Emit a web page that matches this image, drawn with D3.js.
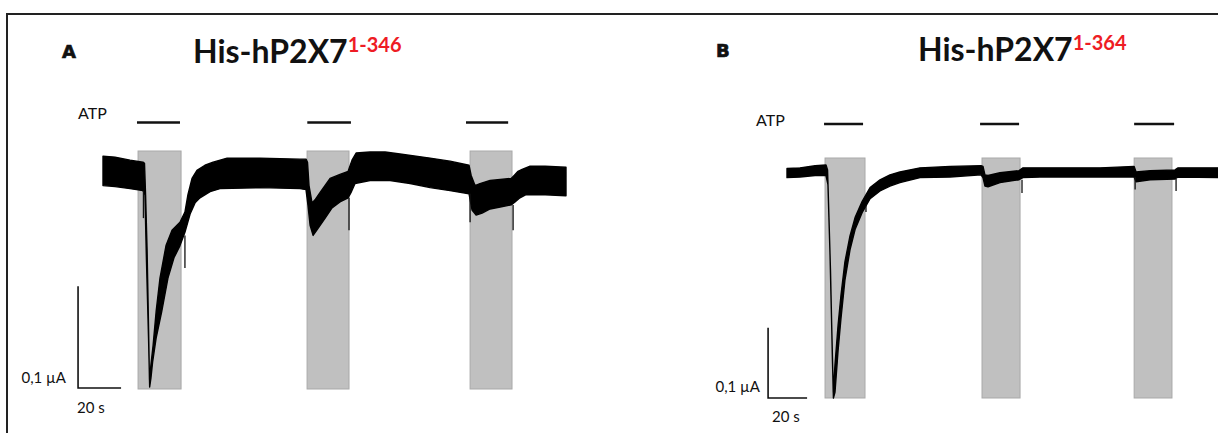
<!DOCTYPE html>
<html>
<head>
<meta charset="utf-8">
<script src="https://cdn.jsdelivr.net/npm/d3@7"></script>
<style>
  html, body { margin: 0; padding: 0; background: #fff; }
  svg { display: block; }
  .label { font-family: Lato, "Open Sans", sans-serif; fill: #111; }
  .panel-letter { font-family: "DejaVu Sans", sans-serif; font-weight: bold; fill: #111; stroke: #111; stroke-width: 0.7; }
</style>
</head>
<body>
<div id="chart"></div>
<script>
/* two-electrode voltage clamp traces, panels A and B
   time in s, current in nA (negative = inward) */

const WIDTH = 1218;
const HEIGHT = 433;

// ---------- panel A : His-hP2X7 1-346 ----------
// upper edge of the (noisy) recorded trace
const A_TOP = [
  [0, 16], [5.6, 15], [12.6, 12], [18.6, 10], [19.3, 9], [19.8, -22], [20.5, -76],
  [21.2, -155], [21.6, -204], [22.3, -189], [23.3, -170], [24.7, -137], [26.5, -104],
  [29.3, -72], [32.1, -57], [35.8, -49], [38.1, -39], [39.5, -22], [41.4, -6],
  [43.7, 2], [47.4, 7], [51.2, 10], [57.7, 14], [73, 14], [91.6, 13], [94.4, 13],
  [95.1, 10], [95.8, -13], [97.2, -30], [98.6, -27], [100.9, -20], [105.6, -6],
  [110.2, -2], [114, 1], [115.8, 12], [117.7, 19], [124.2, 20], [131.2, 20],
  [138.1, 18], [152.1, 14], [161.4, 11], [170.2, 7], [171.2, -3], [173, -13],
  [175.3, -11], [180, -8], [184.7, -7], [189.8, -6], [191.2, -3], [193, 1],
  [194.9, 3], [198.6, 6], [205.6, 6], [215.3, 5]
];
// lower edge of the trace
const A_BOTTOM = [
  [0, -13], [5.6, -14], [12.6, -16], [18.6, -18], [19.5, -22], [20.2, -86],
  [21.2, -165], [21.7, -211], [22.3, -202], [23.1, -186], [24.7, -163], [27.3, -137],
  [30.2, -104], [33, -84], [35.8, -72], [38.1, -59], [40.5, -41], [42.8, -30],
  [45.1, -25], [49.8, -19], [54.4, -16], [73, -15], [91.6, -16], [94.4, -17],
  [95.3, -32], [96.3, -52], [97.7, -62], [100, -55], [103.3, -45], [106.5, -35],
  [110.2, -29], [114, -25], [115.3, -20], [117.2, -11], [124.2, -8], [133.5, -8],
  [142.8, -11], [152.1, -15], [161.4, -18], [170.2, -21], [171.6, -37], [173.5, -42],
  [176.3, -40], [180, -36], [184.7, -34], [189.8, -32], [191.6, -29], [193.9, -25],
  [196.7, -22], [205.6, -22], [215.3, -23]
];
// switching artefacts: [time, from, to]
const A_SPIKES = [[18.8, -18, -45], [38.1, -62, -94], [114.4, -25, -57], [170.7, -21, -49], [190.7, -32, -57]];
// ATP application windows (grey boxes) and the bars above them
const A_PULSES = [[16.3, 36.3], [94.9, 114.4], [170.7, 190.2]];
const A_BARS = [[15.8, 35.8], [95, 115.3], [168.8, 188.4]];

// ---------- panel B : His-hP2X7 1-364 ----------
const B_TOP = [
  [0, 6], [6.7, 7], [14.4, 10], [20, 11], [20.8, 4], [22, -110], [23.1, -239],
  [23.7, -313], [24.6, -274], [26.2, -217], [27.7, -174], [29.7, -127], [32.3, -90],
  [34.9, -64], [38.5, -41], [42.6, -21], [47.7, -10], [52.8, -3], [57.9, 1],
  [68.2, 7], [83.6, 9], [99.5, 10], [100.5, 9], [101.5, -3], [103.1, -4],
  [109.2, 0], [119, 3], [121, 7], [129.7, 7], [160.5, 7], [178, 9], [179, 1],
  [186.2, 3], [199, 4], [200.5, 7], [222, 7]
];
const B_BOTTOM = [
  [0, -7], [6.7, -6], [14.4, -4], [20, -4], [21, -17], [22.3, -139], [23.3, -267],
  [23.8, -321], [24.6, -313], [26.2, -253], [27.7, -207], [29.7, -153], [32.3, -110],
  [34.9, -81], [38.5, -57], [42.6, -37], [47.7, -26], [52.8, -19], [57.9, -14],
  [68.2, -7], [83.6, -6], [99.5, -3], [100.5, -7], [101.5, -19], [103.1, -20],
  [109.2, -14], [119, -10], [121, -7], [129.7, -6], [160.5, -6], [178, -6],
  [179, -13], [186.2, -10], [199, -9], [200.5, -6], [222, -7]
];
const B_SPIKES = [[40.5, -47, -56], [120.5, -10, -29], [178.5, -6, -24], [199.5, -9, -26]];
const B_PULSES = [[19.5, 40], [100, 119.5], [178, 197.4]];
const B_BARS = [[19, 39], [99, 119], [178, 198.5]];

// scale bar values
const SCALE_T = 20;   // s
const SCALE_I = 100;  // nA = 0,1 µA

const panels = [
  {
    letter: "A", title: "His-hP2X7", sup: "1-346",
    top: A_TOP, bottom: A_BOTTOM, spikes: A_SPIKES, pulses: A_PULSES, bars: A_BARS,
    x: d3.scaleLinear().domain([0, 215.3]).range([103, 566]),
    y: d3.scaleLinear().domain([21, -213]).range([151, 389]),
    barY: 122.5, scaleOrigin: [-11.6, -212],
    letterPos: [62, 58], titlePos: [193, 63], atpPos: [78, 119],
    uaPos: [66, 383], secPos: [77, 413]
  },
  {
    letter: "B", title: "His-hP2X7", sup: "1-364",
    top: B_TOP, bottom: B_BOTTOM, spikes: B_SPIKES, pulses: B_PULSES, bars: B_BARS,
    x: d3.scaleLinear().domain([0, 221]).range([787, 1218]),
    y: d3.scaleLinear().domain([21, -321]).range([158, 398]),
    barY: 124, scaleOrigin: [-9.7, -321],
    letterPos: [716, 57], titlePos: [918, 61], atpPos: [756, 126],
    uaPos: [760, 392], secPos: [772, 422]
  }
];

const svg = d3.select("#chart")
  .append("svg")
  .attr("width", WIDTH)
  .attr("height", HEIGHT);

// frame (only top and left edges are inside the picture)
svg.append("path")
  .attr("d", `M7,${HEIGHT} V14 H${WIDTH}`)
  .attr("fill", "none")
  .attr("stroke", "#222")
  .attr("stroke-width", 2);

panels.forEach(drawPanel);

function drawPanel(p) {
  const g = svg.append("g");
  const [y0, y1] = p.y.range();

  // grey ATP windows
  g.selectAll(".pulse")
    .data(p.pulses)
    .join("rect")
    .attr("class", "pulse")
    .attr("x", (d) => p.x(d[0]))
    .attr("width", (d) => p.x(d[1]) - p.x(d[0]))
    .attr("y", y0)
    .attr("height", y1 - y0)
    .attr("fill", "#c0c0c0")
    .attr("stroke", "#a9a9a9")
    .attr("stroke-width", 1);

  // ATP bars
  g.selectAll(".bar")
    .data(p.bars)
    .join("line")
    .attr("class", "bar")
    .attr("x1", (d) => p.x(d[0]))
    .attr("x2", (d) => p.x(d[1]))
    .attr("y1", p.barY)
    .attr("y2", p.barY)
    .attr("stroke", "#111")
    .attr("stroke-width", 2.5);

  // trace = closed band between upper and lower edge
  const line = d3.line().x((d) => p.x(d[0])).y((d) => p.y(d[1]));
  const band = p.top.concat(p.bottom.slice().reverse());
  g.append("path")
    .attr("d", line(band) + "Z")
    .attr("fill", "#000")
    .attr("stroke", "#000")
    .attr("stroke-width", 1.4)
    .attr("stroke-linejoin", "round");

  g.selectAll(".spike")
    .data(p.spikes)
    .join("line")
    .attr("class", "spike")
    .attr("x1", (d) => p.x(d[0]))
    .attr("x2", (d) => p.x(d[0]))
    .attr("y1", (d) => p.y(d[1]))
    .attr("y2", (d) => p.y(d[2]))
    .attr("stroke", "#111")
    .attr("stroke-width", 1.3);

  // scale bar
  const [st, si] = p.scaleOrigin;
  g.append("path")
    .attr("d", `M${p.x(st)},${p.y(si + SCALE_I)} V${p.y(si)} H${p.x(st + SCALE_T)}`)
    .attr("fill", "none")
    .attr("stroke", "#111")
    .attr("stroke-width", 1.6);

  g.append("text")
    .attr("class", "label")
    .attr("x", p.uaPos[0])
    .attr("y", p.uaPos[1])
    .attr("text-anchor", "end")
    .attr("font-size", 15)
    .text("0,1 \u00b5A");

  g.append("text")
    .attr("class", "label")
    .attr("x", p.secPos[0])
    .attr("y", p.secPos[1])
    .attr("font-size", 15)
    .text("20 s");

  g.append("text")
    .attr("class", "label")
    .attr("x", p.atpPos[0])
    .attr("y", p.atpPos[1])
    .attr("font-size", 16)
    .text("ATP");

  g.append("text")
    .attr("class", "panel-letter")
    .attr("x", p.letterPos[0])
    .attr("y", p.letterPos[1])
    .attr("font-size", 18)
    .text(p.letter);

  const title = g.append("text")
    .attr("class", "label")
    .attr("x", p.titlePos[0])
    .attr("y", p.titlePos[1])
    .attr("font-weight", "bold")
    .attr("font-size", 32);
  title.append("tspan").text(p.title);
  title.append("tspan")
    .attr("dy", -11)
    .attr("font-size", 20)
    .attr("fill", "#ee1c24")
    .text(p.sup);
}
</script>
</body>
</html>
